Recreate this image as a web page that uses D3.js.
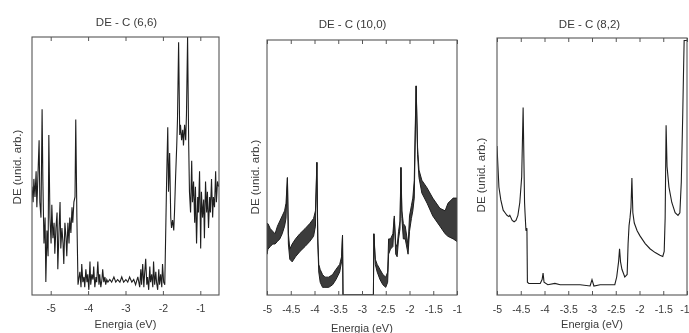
<!DOCTYPE html>
<html>
<head>
<meta charset="utf-8">
<script src="https://cdn.jsdelivr.net/npm/d3@7"></script>
<style>
html,body{margin:0;padding:0;background:#fff;}
svg{display:block;filter:blur(0.55px);}
text{font-family:"Liberation Sans",Arial,sans-serif;fill:#3a3a3a;}
</style>
</head>
<body>
<svg id="chart" width="689" height="333"></svg>
<script>
// ---------- DATA ----------
const titles = ["DE - C (6,6)", "DE - C (10,0)", "DE - C (8,2)"];
const xLabel = "Energia (eV)";
const yLabel = "DE (unid. arb.)";

const ticks66 = [-5, -4, -3, -2, -1];
const ticks100 = [-5, -4.5, -4, -3.5, -3, -2.5, -2, -1.5, -1];
const ticks82 = [-5, -4.5, -4, -3.5, -3, -2.5, -2, -1.5, -1];
const tickLabels66 = ["-5", "-4", "-3", "-2", "-1"];
const tickLabels100 = ["-5", "-4.5", "-4", "-3.5", "-3", "-2.5", "-2", "-1.5", "-1"];
const tickLabels82 = ["-5", "-4.5", "-4", "-3.5", "-3", "-2.5", "-2", "-1.5", "-1"];

// DE-C(6,6): [energy eV, DOS arb.]
const dos66 = [
[-5.50,0.42],[-5.47,0.36],[-5.45,0.45],[-5.42,0.38],[-5.39,0.48],[-5.37,0.34],[-5.34,0.47],[-5.31,0.60],
[-5.29,0.36],[-5.26,0.30],[-5.23,0.72],[-5.21,0.45],[-5.18,0.20],[-5.15,0.30],[-5.13,0.05],[-5.10,0.25],
[-5.07,0.15],[-5.05,0.62],[-5.02,0.30],[-4.99,0.20],[-4.97,0.35],[-4.94,0.22],[-4.91,0.28],[-4.89,0.16],
[-4.86,0.26],[-4.83,0.32],[-4.81,0.10],[-4.78,0.24],[-4.75,0.36],[-4.73,0.18],[-4.70,0.26],[-4.67,0.20],
[-4.65,0.12],[-4.62,0.28],[-4.59,0.22],[-4.57,0.15],[-4.54,0.28],[-4.51,0.20],[-4.49,0.30],[-4.46,0.24],
[-4.43,0.34],[-4.41,0.28],[-4.38,0.36],[-4.35,0.38],[-4.33,0.68],[-4.30,0.30],[-4.27,0.04],[-4.25,0.06],
[-4.22,0.09],[-4.19,0.03],[-4.17,0.12],[-4.14,0.05],[-4.11,0.07],[-4.09,0.03],[-4.06,0.10],[-4.03,0.05],
[-4.01,0.08],[-3.98,0.02],[-3.95,0.13],[-3.93,0.04],[-3.90,0.08],[-3.87,0.06],[-3.85,0.11],[-3.82,0.03],
[-3.79,0.07],[-3.77,0.05],[-3.74,0.13],[-3.71,0.04],[-3.69,0.08],[-3.66,0.03],[-3.63,0.06],[-3.61,0.10],
[-3.58,0.05],[-3.55,0.07],[-3.53,0.04],[-3.50,0.06],[-3.47,0.05],[-3.42,0.06],[-3.37,0.05],[-3.31,0.07],
[-3.26,0.05],[-3.21,0.06],[-3.15,0.05],[-3.10,0.07],[-3.05,0.05],[-2.99,0.06],[-2.94,0.05],[-2.89,0.07],
[-2.83,0.05],[-2.78,0.06],[-2.73,0.04],[-2.67,0.07],[-2.62,0.03],[-2.59,0.10],[-2.57,0.04],[-2.54,0.12],
[-2.51,0.03],[-2.49,0.08],[-2.46,0.14],[-2.43,0.04],[-2.41,0.07],[-2.38,0.02],[-2.35,0.11],[-2.33,0.05],
[-2.30,0.08],[-2.27,0.03],[-2.25,0.13],[-2.22,0.04],[-2.19,0.09],[-2.17,0.05],[-2.14,0.02],[-2.11,0.10],
[-2.09,0.04],[-2.06,0.08],[-2.03,0.03],[-2.01,0.12],[-1.98,0.05],[-1.95,0.04],[-1.93,0.20],[-1.90,0.45],
[-1.87,0.65],[-1.85,0.40],[-1.82,0.55],[-1.79,0.30],[-1.77,0.26],[-1.74,0.29],[-1.71,0.25],[-1.69,0.32],
[-1.66,0.46],[-1.63,0.58],[-1.61,0.68],[-1.58,0.98],[-1.55,0.62],[-1.53,0.66],[-1.50,0.60],[-1.47,0.64],
[-1.45,0.58],[-1.42,0.66],[-1.39,0.60],[-1.37,0.70],[-1.34,1.00],[-1.31,0.58],[-1.29,0.40],[-1.26,0.32],
[-1.23,0.52],[-1.21,0.36],[-1.18,0.44],[-1.15,0.28],[-1.13,0.42],[-1.10,0.20],[-1.07,0.38],[-1.05,0.32],
[-1.02,0.48],[-0.99,0.18],[-0.97,0.40],[-0.94,0.30],[-0.91,0.37],[-0.89,0.22],[-0.86,0.44],[-0.83,0.32],
[-0.81,0.40],[-0.78,0.26],[-0.75,0.38],[-0.73,0.32],[-0.70,0.45],[-0.67,0.30],[-0.65,0.38],[-0.62,0.34],
[-0.59,0.48],[-0.57,0.36],[-0.54,0.44],[-0.51,0.42]
];

// DE-C(10,0): [energy eV, lower edge, upper edge] of the noisy band
const dos100 = [
[-5.00,0.16,0.28],[-4.98,0.18,0.28],[-4.93,0.19,0.26],[-4.88,0.20,0.25],[-4.83,0.20,0.24],[-4.78,0.21,0.27],
[-4.73,0.22,0.29],[-4.68,0.24,0.31],[-4.63,0.27,0.33],[-4.60,0.30,0.36],[-4.57,0.46,0.46],[-4.55,0.20,0.24],
[-4.52,0.14,0.18],[-4.47,0.13,0.20],[-4.40,0.15,0.22],[-4.31,0.17,0.24],[-4.20,0.19,0.26],[-4.10,0.21,0.28],
[-4.02,0.23,0.30],[-3.98,0.27,0.33],[-3.95,0.52,0.52],[-3.93,0.20,0.22],[-3.91,0.09,0.12],[-3.88,0.05,0.10],
[-3.83,0.03,0.08],[-3.78,0.03,0.07],[-3.70,0.03,0.07],[-3.62,0.04,0.08],[-3.55,0.06,0.10],[-3.47,0.09,0.12],
[-3.43,0.13,0.15],[-3.41,0.235,0.235],[-3.40,0.00,0.00],[-2.76,0.00,0.00],[-2.75,0.24,0.24],[-2.72,0.12,0.14],
[-2.68,0.09,0.12],[-2.62,0.06,0.10],[-2.56,0.04,0.08],[-2.50,0.03,0.07],[-2.46,0.05,0.09],[-2.44,0.16,0.22],
[-2.40,0.18,0.22],[-2.35,0.19,0.24],[-2.32,0.30,0.31],[-2.29,0.16,0.20],[-2.26,0.15,0.19],[-2.23,0.22,0.25],
[-2.20,0.26,0.29],[-2.18,0.50,0.50],[-2.16,0.30,0.33],[-2.13,0.22,0.28],[-2.09,0.22,0.27],[-2.05,0.18,0.22],
[-2.03,0.16,0.19],[-2.00,0.25,0.31],[-1.96,0.30,0.35],[-1.93,0.33,0.38],[-1.90,0.38,0.45],[-1.88,0.60,0.65],
[-1.86,0.82,0.82],[-1.83,0.55,0.58],[-1.80,0.46,0.49],[-1.74,0.40,0.45],[-1.63,0.36,0.42],[-1.51,0.31,0.38],
[-1.36,0.27,0.34],[-1.25,0.24,0.33],[-1.19,0.23,0.36],[-1.08,0.22,0.38],[-1.00,0.21,0.38]
];

// DE-C(8,2): [energy eV, DOS arb.]
const dos82 = [
[-5.00,0.58],[-4.98,0.50],[-4.96,0.42],[-4.92,0.37],[-4.87,0.33],[-4.83,0.32],[-4.79,0.31],[-4.75,0.305],
[-4.73,0.31],[-4.68,0.29],[-4.64,0.285],[-4.60,0.29],[-4.56,0.31],[-4.52,0.36],[-4.48,0.46],[-4.45,0.73],
[-4.42,0.36],[-4.41,0.32],[-4.39,0.25],[-4.37,0.26],[-4.36,0.05],[-4.33,0.045],[-4.20,0.045],[-4.09,0.045],
[-4.05,0.06],[-4.03,0.085],[-4.01,0.05],[-3.93,0.04],[-3.78,0.045],[-3.67,0.04],[-3.46,0.04],[-3.25,0.04],
[-3.04,0.035],[-3.00,0.06],[-2.96,0.035],[-2.83,0.04],[-2.62,0.04],[-2.52,0.04],[-2.48,0.07],[-2.44,0.13],
[-2.42,0.18],[-2.40,0.13],[-2.37,0.10],[-2.31,0.07],[-2.26,0.08],[-2.24,0.20],[-2.22,0.27],[-2.20,0.30],
[-2.18,0.34],[-2.16,0.455],[-2.14,0.32],[-2.11,0.28],[-2.05,0.25],[-1.99,0.23],[-1.88,0.20],[-1.78,0.18],
[-1.67,0.165],[-1.57,0.155],[-1.51,0.15],[-1.48,0.17],[-1.46,0.30],[-1.44,0.66],[-1.42,0.50],[-1.38,0.42],
[-1.32,0.36],[-1.25,0.32],[-1.19,0.31],[-1.15,0.32],[-1.12,0.44],[-1.09,0.70],[-1.07,0.90],[-1.06,0.99],
[-1.02,0.99],[-1.00,0.99]
];

// ---------- LAYOUT ----------
const panels = [
  {title: titles[0], titleX: 126.5, titleY: 26, left: 32, right: 219, top: 37, bottom: 295,
   domain: [-5.5, -0.5], ticks: ticks66, tickLabels: tickLabels66, tickY: 312, xLabY: 328,
   yLabX: 21, yLabY: 167, kind: "line", data: dos66, lastEnd: false},
  {title: titles[1], titleX: 352.5, titleY: 28, left: 267, right: 457, top: 40, bottom: 295,
   domain: [-5, -1], ticks: ticks100, tickLabels: tickLabels100, tickY: 313, xLabY: 332,
   yLabX: 259, yLabY: 177, kind: "band", data: dos100, lastEnd: false},
  {title: titles[2], titleX: 589.5, titleY: 28, left: 497, right: 687, top: 38, bottom: 295,
   domain: [-5, -1], ticks: ticks82, tickLabels: tickLabels82, tickY: 313, xLabY: 328,
   yLabX: 485, yLabY: 175, kind: "line", data: dos82, lastEnd: true}
];

const svg = d3.select("#chart");
svg.append("rect").attr("width", 689).attr("height", 333).attr("fill", "#fff");

panels.forEach((p, i) => {
  const x = d3.scaleLinear().domain(p.domain).range([p.left, p.right]);
  const y = d3.scaleLinear().domain([0, 1]).range([p.bottom, p.top]);
  const g = svg.append("g");

  const clipId = "clip" + i;
  svg.append("clipPath").attr("id", clipId)
    .append("rect").attr("x", p.left).attr("y", p.top)
    .attr("width", p.right - p.left).attr("height", p.bottom - p.top);

  const plot = g.append("g").attr("clip-path", `url(#${clipId})`);
  if (p.kind === "line") {
    const line = d3.line().x(d => x(d[0])).y(d => y(d[1]));
    plot.append("path").datum(p.data).attr("d", line)
      .attr("fill", "none").attr("stroke", "#1e1e1e").attr("stroke-width", 1.1)
      .attr("stroke-linejoin", "miter");
  } else {
    const area = d3.area().x(d => x(d[0])).y0(d => y(d[1])).y1(d => y(d[2]));
    plot.append("path").datum(p.data).attr("d", area)
      .attr("fill", "#3c3c3c").attr("stroke", "#1e1e1e").attr("stroke-width", 1);
  }

  // frame
  g.append("rect").attr("x", p.left).attr("y", p.top)
    .attr("width", p.right - p.left).attr("height", p.bottom - p.top)
    .attr("fill", "none").attr("stroke", "#555").attr("stroke-width", 1.1);

  // bottom axis (inward ticks)
  const axB = d3.axisBottom(x).tickValues(p.ticks).tickSize(-4).tickPadding(0)
    .tickFormat((d, j) => p.tickLabels[j]);
  const gb = g.append("g").attr("transform", `translate(0,${p.bottom})`).call(axB);
  gb.select(".domain").remove();
  gb.selectAll(".tick line").attr("stroke", "#555");
  gb.selectAll(".tick text").attr("y", p.tickY - p.bottom).attr("dy", 0)
    .style("font-size", "10.5px").style("fill", "#3a3a3a");
  if (p.lastEnd) {
    gb.selectAll(".tick text").filter((d, j, n) => j === n.length - 1)
      .attr("text-anchor", "end").attr("x", 2);
  }

  // top axis (inward ticks, no labels)
  const axT = d3.axisTop(x).tickValues(p.ticks).tickSize(-4).tickFormat("");
  const gt = g.append("g").attr("transform", `translate(0,${p.top})`).call(axT);
  gt.select(".domain").remove();
  gt.selectAll(".tick line").attr("stroke", "#555");

  // titles and labels
  g.append("text").attr("x", p.titleX).attr("y", p.titleY).attr("text-anchor", "middle")
    .style("font-size", "11.5px").text(p.title);
  g.append("text").attr("x", (p.left + p.right) / 2).attr("y", p.xLabY).attr("text-anchor", "middle")
    .style("font-size", "11px").text(xLabel);
  g.append("text").attr("transform", `translate(${p.yLabX},${p.yLabY}) rotate(-90)`)
    .attr("text-anchor", "middle").style("font-size", "11.5px").text(yLabel);
});
</script>
</body>
</html>
